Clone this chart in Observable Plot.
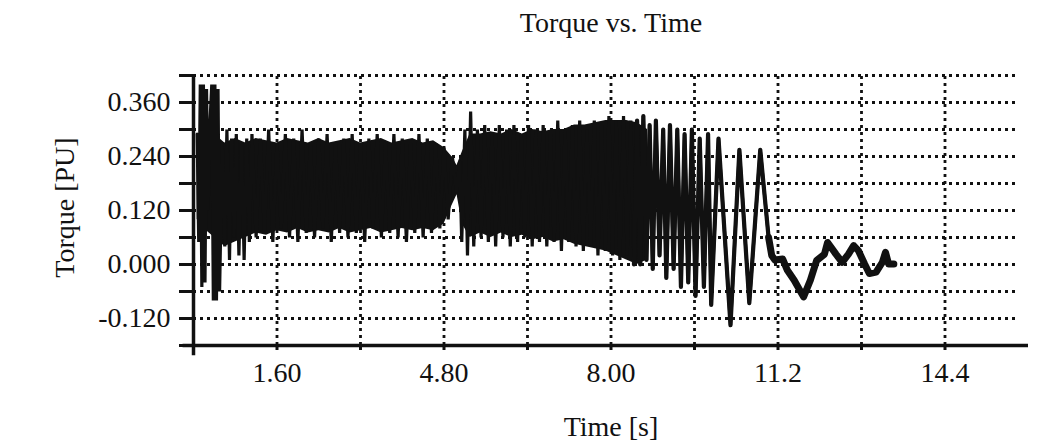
<!DOCTYPE html>
<html>
<head>
<meta charset="utf-8">
<script src="https://cdn.jsdelivr.net/npm/d3@7"></script>
<script src="https://cdn.jsdelivr.net/npm/@observablehq/plot@0.6"></script>
<style>
  html, body { margin: 0; padding: 0; background: #fff; }
</style>
</head>
<body>
<div id="chart"></div>
<script>
// ---- Data ----
const titleText = "Torque vs. Time";
const xLabelText = "Time [s]";
const yLabelText = "Torque [PU]";

const xTickValues = [1.6, 4.8, 8.0, 11.2, 14.4];
const xTickLabels = ["1.60", "4.80", "8.00", "11.2", "14.4"];
const xGridValues = [1.6, 3.2, 4.8, 6.4, 8.0, 9.6, 11.2, 12.8, 14.4];

const yTickValues = [-0.12, 0, 0.12, 0.24, 0.36];
const yTickLabels = ["-0.120", "0.000", "0.120", "0.240", "0.360"];
const yGridValues = [-0.12, -0.06, 0, 0.06, 0.12, 0.18, 0.24, 0.30, 0.36, 0.42];
const yMinorTicks = [-0.18, -0.12, -0.06, 0, 0.06, 0.12, 0.18, 0.24, 0.30, 0.36, 0.42];

// Envelope of the dense oscillation band (s, PU)
const envTime = [0.07, 0.2, 0.4, 0.6, 0.8, 1.0, 1.2, 1.4, 1.6, 1.8, 2.0, 2.2, 2.4, 2.6, 2.8, 3.0, 3.2, 3.4, 3.6, 3.8, 4.0, 4.2, 4.4, 4.6, 4.8, 4.95, 5.05, 5.15, 5.3, 5.5, 5.7, 5.9, 6.1, 6.3, 6.5, 6.7, 6.9, 7.1, 7.3, 7.5, 7.7, 7.9, 8.1, 8.3, 8.5, 8.7];
const envLow  = [0.10, 0.08, 0.06, 0.04, 0.05, 0.06, 0.07, 0.065, 0.075, 0.07, 0.08, 0.07, 0.075, 0.07, 0.08, 0.07, 0.075, 0.08, 0.07, 0.075, 0.08, 0.075, 0.08, 0.075, 0.09, 0.13, 0.155, 0.09, 0.06, 0.07, 0.06, 0.07, 0.06, 0.065, 0.055, 0.06, 0.05, 0.055, 0.045, 0.04, 0.035, 0.03, 0.02, 0.01, 0.00, 0.01];
const envHigh = [0.29, 0.29, 0.29, 0.27, 0.28, 0.27, 0.28, 0.275, 0.27, 0.28, 0.275, 0.27, 0.28, 0.27, 0.275, 0.28, 0.27, 0.275, 0.28, 0.27, 0.275, 0.28, 0.27, 0.275, 0.26, 0.24, 0.22, 0.25, 0.29, 0.29, 0.295, 0.29, 0.30, 0.29, 0.30, 0.295, 0.30, 0.30, 0.31, 0.31, 0.315, 0.32, 0.32, 0.32, 0.315, 0.30];

// Torque trace (s, PU)
const sigTime = [
  0.07, 0.10, 0.13, 0.16, 0.19, 0.22, 0.25, 0.28, 0.31, 0.35, 0.38, 0.41, 0.44, 0.47, 0.50, 0.55, 0.60, 0.64, 0.69, 0.73, 0.78, 0.82, 0.87, 0.92, 0.97, 1.02, 1.07,
  1.12, 1.20, 1.28, 1.36, 1.44, 1.52, 1.60, 1.68, 1.76, 1.84, 1.92, 2.00, 2.08, 2.16, 2.24, 2.32, 2.40, 2.48, 2.56, 2.64, 2.72, 2.80, 2.88, 2.96,
  3.04, 3.12, 3.20, 3.28, 3.36, 3.44, 3.52, 3.60, 3.68, 3.76, 3.84, 3.92, 4.00, 4.08, 4.16, 4.24, 4.32, 4.40, 4.48, 4.56, 4.64, 4.72, 4.80, 4.88,
  4.96, 5.04, 5.10, 5.14, 5.20, 5.25, 5.31, 5.37, 5.44, 5.51, 5.58, 5.65, 5.72, 5.79, 5.86, 5.93, 6.00, 6.07, 6.14, 6.21, 6.28, 6.35, 6.42, 6.49,
  6.56, 6.63, 6.70, 6.77, 6.84, 6.91, 6.98, 7.05, 7.12, 7.19, 7.26, 7.33, 7.40, 7.47, 7.54, 7.61, 7.68, 7.75, 7.82, 7.89, 7.96, 8.03, 8.10, 8.17,
  8.24, 8.31, 8.38, 8.44, 8.50, 8.56, 8.62, 8.68, 8.74, 8.80, 8.86, 8.93, 9.00, 9.06, 9.13, 9.20, 9.27, 9.34, 9.41, 9.48, 9.55, 9.62, 9.70, 9.78,
  9.86, 9.92, 10.06, 10.29, 10.46, 10.65, 10.86, 11.02, 11.08,
  11.14, 11.29, 11.38, 11.51, 11.69, 11.82, 11.94, 12.09, 12.15, 12.31, 12.43, 12.55, 12.65, 12.74, 12.86, 12.95, 13.08, 13.20, 13.26, 13.32, 13.42
];
const sigTorque = [
  0.29, 0.05, 0.40, -0.05, 0.40, -0.04, 0.39, 0.12, 0.30, 0.40, -0.08, 0.40, -0.08, 0.39, -0.06, 0.27, 0.04, 0.30, 0.01, 0.28, 0.06, 0.29, 0.02, 0.27, 0.01, 0.28, 0.05,
  0.29, 0.06, 0.28, 0.07, 0.30, 0.05, 0.27, 0.08, 0.29, 0.06, 0.28, 0.05, 0.30, 0.07, 0.27, 0.06, 0.28, 0.08, 0.29, 0.05, 0.27, 0.07, 0.28, 0.06,
  0.29, 0.07, 0.27, 0.05, 0.28, 0.08, 0.29, 0.06, 0.27, 0.07, 0.29, 0.06, 0.28, 0.05, 0.27, 0.07, 0.29, 0.06, 0.28, 0.07, 0.27, 0.08, 0.26, 0.10,
  0.24, 0.16, 0.23, 0.05, 0.30, 0.02, 0.34, 0.04, 0.30, 0.06, 0.31, 0.05, 0.29, 0.04, 0.31, 0.06, 0.30, 0.04, 0.31, 0.05, 0.29, 0.06, 0.31, 0.04,
  0.30, 0.05, 0.31, 0.04, 0.29, 0.05, 0.32, 0.03, 0.30, 0.05, 0.31, 0.04, 0.32, 0.03, 0.30, 0.04, 0.32, 0.02, 0.31, 0.03, 0.33, 0.02, 0.32, 0.01,
  0.33, 0.02, 0.32, 0.00, 0.32, 0.00, 0.33, 0.01, 0.31, -0.01, 0.32, 0.02, 0.30, -0.03, 0.31, -0.01, 0.30, -0.05, 0.29, -0.04, 0.30, -0.07, 0.28, -0.05,
  0.29, -0.09, 0.28, -0.135, 0.255, -0.086, 0.255, 0.06, 0.02,
  0.01, 0.012, -0.013, -0.035, -0.072, -0.035, 0.009, 0.023, 0.049, 0.023, 0.005, 0.023, 0.042, 0.031, 0.001, -0.020, -0.017, 0.005, 0.027, 0.001, 0.001
];

// ---- Build tables ----
const signal = sigTime.map((t, i) => ({t, v: sigTorque[i]}));
const envelope = envTime.map((t, i) => ({t, lo: envLow[i], hi: envHigh[i]}));

const ink = "#111";
const dots = {stroke: ink, strokeWidth: 2.8, strokeDasharray: "3,4"};
const fs = 28;

const chart = Plot.plot({
  width: 1062,
  height: 443,
  marginLeft: 193,
  marginRight: 34,
  marginTop: 75,
  marginBottom: 98,
  x: {domain: [0, 16]},
  y: {domain: [-0.18, 0.42]},
  style: {fontFamily: "'Liberation Serif', 'Times New Roman', serif", fontSize: fs + "px", color: ink, background: "#fff"},
  marks: [
    Plot.ruleY(yGridValues, {x1: 0, x2: 15.8, ...dots}),
    Plot.ruleX(xGridValues, {y1: -0.18, y2: 0.42, ...dots}),
    Plot.areaY(envelope, {x: "t", y1: "lo", y2: "hi", fill: ink, curve: "linear"}),
    Plot.line(signal, {x: "t", y: "v", stroke: ink, strokeWidth: 3.2, strokeLinejoin: "miter"}),
    Plot.line(signal, {filter: d => d.t >= 8.4 && d.t <= 11.02, x: "t", y: "v", stroke: ink, strokeWidth: 4.2, strokeLinejoin: "round"}),
    Plot.line(signal, {filter: d => d.t >= 11.0, x: "t", y: "v", stroke: ink, strokeWidth: 7, strokeLinejoin: "round"}),
    Plot.ruleX([0], {y1: -0.203, y2: 0.42, stroke: ink, strokeWidth: 3.5}),
    Plot.ruleY([-0.18], {x1: -0.2, x2: 16, stroke: ink, strokeWidth: 3.5}),
    Plot.axisY(yMinorTicks, {tickSize: 14, tickFormat: () => "", strokeWidth: 3, label: null}),
    Plot.axisY(yTickValues, {tickSize: 0, tickPadding: 23, label: null,
      tickFormat: d => yTickLabels[yTickValues.indexOf(d)], fontSize: fs}),
    Plot.axisX(xGridValues, {tickSize: 5, tickFormat: () => "", strokeWidth: 3, label: null}),
    Plot.axisX(xTickValues, {tickSize: 0, tickPadding: 17, label: null,
      tickFormat: d => xTickLabels[xTickValues.indexOf(d)], fontSize: fs}),
    Plot.text([titleText], {frameAnchor: "top", dy: -52, lineAnchor: "middle", fontSize: fs, fill: ink}),
    Plot.text([xLabelText], {frameAnchor: "bottom", dy: 82, lineAnchor: "middle", fontSize: fs, fill: ink}),
    Plot.text([yLabelText], {frameAnchor: "left", dx: -128, dy: -3, rotate: -90, textAnchor: "middle", lineAnchor: "middle", fontSize: fs, fill: ink})
  ]
});
document.getElementById("chart").appendChild(chart);
</script>
</body>
</html>
